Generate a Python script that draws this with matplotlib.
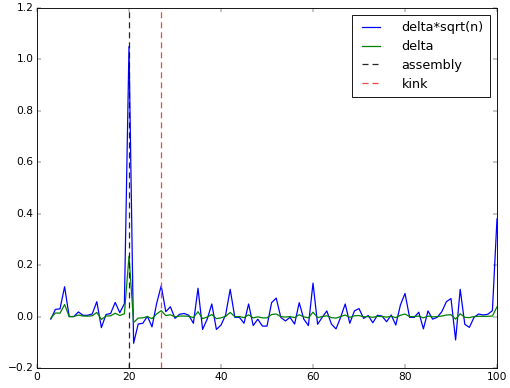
import matplotlib
matplotlib.use('Agg')
import matplotlib.pyplot as plt
import numpy as np

plt.style.use('classic')

n = list(range(3, 101))
# delta*sqrt(n)
delta_sqrt_n = [-0.01, 0.028, 0.03, 0.116, 0.0, 0.0, 0.018, 0.005, 0.005, 0.01,
                0.058, -0.043, 0.008, 0.012, 0.055, 0.015, 0.05, 1.05, -0.104, -0.029,
                -0.026, 0.001, -0.04, 0.05, 0.12, 0.019, 0.038, -0.007, 0.009, 0.012,
                0.005, -0.026, 0.11, -0.05, -0.01, 0.049, -0.05, -0.033, 0.006, 0.106,
                -0.003, -0.003, -0.026, 0.049, -0.035, -0.01, -0.037, -0.037, 0.054, 0.072,
                -0.003, -0.017, -0.003, -0.029, 0.054, -0.01, -0.035, 0.13, -0.03, -0.003,
                0.022, -0.029, -0.048, -0.003, 0.049, -0.026, 0.022, 0.031, -0.007, 0.004,
                -0.024, 0.005, 0.002, -0.02, 0.006, -0.033, 0.045, 0.09, -0.003, -0.003,
                0.017, -0.048, 0.022, -0.01, -0.003, 0.019, 0.058, 0.07, -0.091, 0.106,
                -0.03, -0.042, -0.003, 0.01, 0.006, 0.009, 0.023, 0.38]
# delta
delta = [-0.006, 0.014, 0.013, 0.047, 0.0, 0.0, 0.006, 0.002, 0.0015, 0.003,
         0.016, -0.011, 0.002, 0.003, 0.013, 0.004, 0.011, 0.235, -0.023, -0.006,
         -0.005, 0.0, -0.008, 0.010, 0.023, 0.004, 0.007, -0.001, 0.002, 0.002,
         0.001, -0.004, 0.019, -0.008, -0.002, 0.008, -0.008, -0.005, 0.001, 0.016,
         0.0, 0.0, -0.004, 0.007, -0.005, -0.001, -0.005, -0.005, 0.008, 0.010,
         0.0, -0.002, 0.0, -0.004, 0.007, -0.001, -0.005, 0.017, -0.004, 0.0,
         0.003, -0.004, -0.006, 0.0, 0.006, -0.003, 0.003, 0.004, -0.001, 0.0,
         -0.003, 0.001, 0.0, -0.002, 0.001, -0.004, 0.005, 0.010, 0.0, 0.0,
         0.002, -0.005, 0.002, -0.001, 0.0, 0.002, 0.006, 0.007, -0.010, 0.011,
         -0.003, -0.004, 0.0, 0.001, 0.001, 0.001, 0.002, 0.038]
assembly = 20
kink = 27

fig = plt.figure(figsize=(8, 388 / 63.75), dpi=63.75)
ax = fig.add_axes([37 / 510, 20 / 388, 460 / 510, 360 / 388])

ax.plot(n, delta_sqrt_n, color='blue', lw=1.4, label='delta*sqrt(n)')
ax.plot(n, delta, color='green', lw=1.4, label='delta')
ax.axvline(assembly, color='black', lw=1.4, dashes=(6.8, 4.5), alpha=0.85, label='assembly')
ax.axvline(kink, color='#f04848', lw=1.4, dashes=(6.8, 4.5), label='kink')

ax.set_xlim(0, 100)
ax.set_ylim(-0.2, 1.2)
ax.legend(loc='upper right', borderaxespad=0.55, borderpad=0.5, labelspacing=0.45,
          handlelength=2.0, handletextpad=1.4)

fig.savefig('out.png', dpi=63.75)
